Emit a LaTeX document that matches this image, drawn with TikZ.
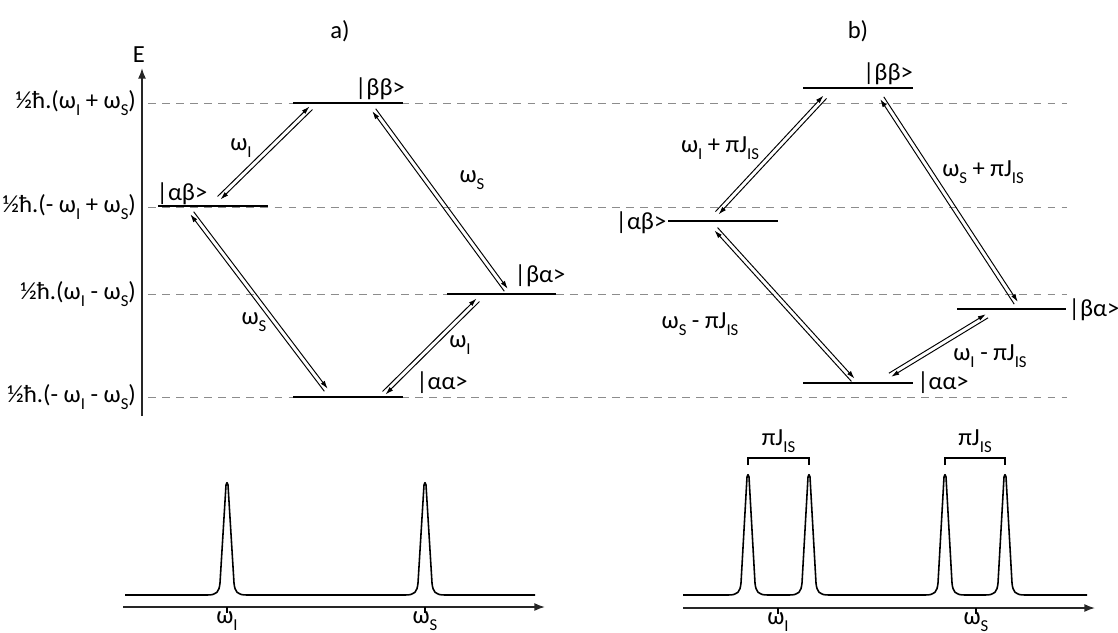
\documentclass[tikz,border=0pt]{standalone}
\usepackage{fontspec}
\setmainfont{Carlito}
\usetikzlibrary{arrows.meta,calc}
\newcommand\sbs[1]{\raisebox{-0.55ex}{\fontsize{9.5}{10}\selectfont #1}}

\begin{document}
\begin{tikzpicture}[x=0.02cm, y=-0.02cm, >={Latex[length=4.6pt,width=2.8pt]},
  every node/.style={font=\fontsize{14}{16}\selectfont, inner sep=1pt},
  lvl/.style={line width=1.6pt},
  guide/.style={black!45, line width=0.5pt, dash pattern=on 4.5pt off 3.5pt},
  axis/.style={black!85, line width=0.9pt, -{Latex[length=6pt,width=4.5pt]}},
  tr/.style={line width=0.55pt},
  spec/.style={line width=0.9pt, line join=round}]
\useasboundingbox (0,0) rectangle (1118,632);

% panel titles
\node (ta) at (340,31) {a)};
\node (tb) at (858,31) {b)};

% energy axis
\coordinate (e0) at (142,416);
\coordinate (e1) at (142,68);
\draw[axis] (e0) -- (e1);
\node (E) at (139,55) {E};

% guide lines and energy values
\foreach \y/\name/\txt in {103/en1/{(ω\sbs{I} + ω\sbs{S})}, 207/en2/{(- ω\sbs{I} + ω\sbs{S})},
  294/en3/{(ω\sbs{I} - ω\sbs{S})}, 397/en4/{(- ω\sbs{I} - ω\sbs{S})}}
  {\draw[guide] (148,\y) -- (1067,\y);
   \node[anchor=east] (\name) at (138,\y) {½ħ.\txt};}

% energy levels
\foreach \xa/\xb/\y in {293/403/103, 158/268/206, 447/556/294, 293/403/397,
  803/913/88, 668/778/221, 957/1066/309, 803/913/383}
  \draw[lvl] (\xa,\y) -- (\xb,\y);

% state labels
\node (bbA) at (380,89) {|ββ>};
\node (abA) at (182,194) {|αβ>};
\node (baA) at (540,276) {|βα>};
\node (aaA) at (442,383) {|αα>};
\node (bbB) at (888,74) {|ββ>};
\node (abB) at (641,223) {|αβ>};
\node (baB) at (1094,310) {|βα>};
\node (aaB) at (943,383) {|αα>};

% transitions (lower end p, upper end q)
\coordinate (p1) at (219,198); \coordinate (q1) at (311,108);
\coordinate (p2) at (326,390); \coordinate (q2) at (192,213);
\coordinate (p3) at (506,290); \coordinate (q3) at (374,110);
\coordinate (p4) at (384,393); \coordinate (q4) at (478,300);
\coordinate (p5) at (717,213); \coordinate (q5) at (825,97);
\coordinate (p6) at (853,380); \coordinate (q6) at (716,229);
\coordinate (p7) at (1016,303); \coordinate (q7) at (882,98);
\coordinate (p8) at (890,375); \coordinate (q8) at (987,316);
\foreach \i in {1,...,8}{
  \draw[tr,->] ($(p\i)!1.2pt!90:(q\i)$) -- ($(q\i)!1.2pt!-90:(p\i)$);
  \draw[tr,<-] ($(p\i)!1.2pt!-90:(q\i)$) -- ($(q\i)!1.2pt!90:(p\i)$);}

% transition labels
\node (wI1) at (241,148) {ω\sbs{I}};
\node (wS1) at (254,322) {ω\sbs{S}};
\node (wS2) at (472,180) {ω\sbs{S}};
\node (wI2) at (460,345) {ω\sbs{I}};
\node (wI3) at (720,148) {ω\sbs{I} + πJ\sbs{IS}};
\node (wS3) at (700,324) {ω\sbs{S} - πJ\sbs{IS}};
\node (wS4) at (983,172) {ω\sbs{S} + πJ\sbs{IS}};
\node (wI4) at (990,356) {ω\sbs{I} - πJ\sbs{IS}};

% spectra
\draw[spec] (125,595) foreach \p/\t in {227/483, 425/483} {
  -- (\p-20,595) .. controls (\p-10,595) and (\p-8,592) .. (\p-7,583)
  -- (\p-1,\t+2) .. controls (\p,\t-1) .. (\p+1,\t+2) -- (\p+7,583)
  .. controls (\p+8,592) and (\p+10,595) .. (\p+20,595)} -- (535,595);
\draw[spec] (683,595) foreach \p/\t in {748/475, 809/475, 945/475, 1005/475} {
  -- (\p-20,595) .. controls (\p-10,595) and (\p-8,592) .. (\p-7,583)
  -- (\p-1,\t+2) .. controls (\p,\t-1) .. (\p+1,\t+2) -- (\p+7,583)
  .. controls (\p+8,592) and (\p+10,595) .. (\p+20,595)} -- (1087,595);

\coordinate (sa0) at (123,607); \coordinate (sa1) at (545,607);
\coordinate (sb0) at (683,608); \coordinate (sb1) at (1095,608);
\draw[axis] (sa0) -- (sa1);
\draw[axis] (sb0) -- (sb1);
\foreach \x/\y/\name/\s in {227/607/fIa/I, 425/607/fSa/S, 778/608/fIb/I, 976/608/fSb/S}{
  \draw[line width=0.6pt] (\x,\y) -- (\x,\y+6);
  \node[anchor=north] (\name) at (\x,\y+3) {ω\sbs{\s}};}

% coupling brackets
\foreach \xa/\xb/\name in {748/809/jI, 945/1005/jS}{
  \draw[line width=0.6pt] (\xa,465) -- (\xa,458) -- (\xb,458) -- (\xb,465);
  \node (\name) at ({(\xa+\xb)/2},441) {πJ\sbs{IS}};}
\end{tikzpicture}
\end{document}
